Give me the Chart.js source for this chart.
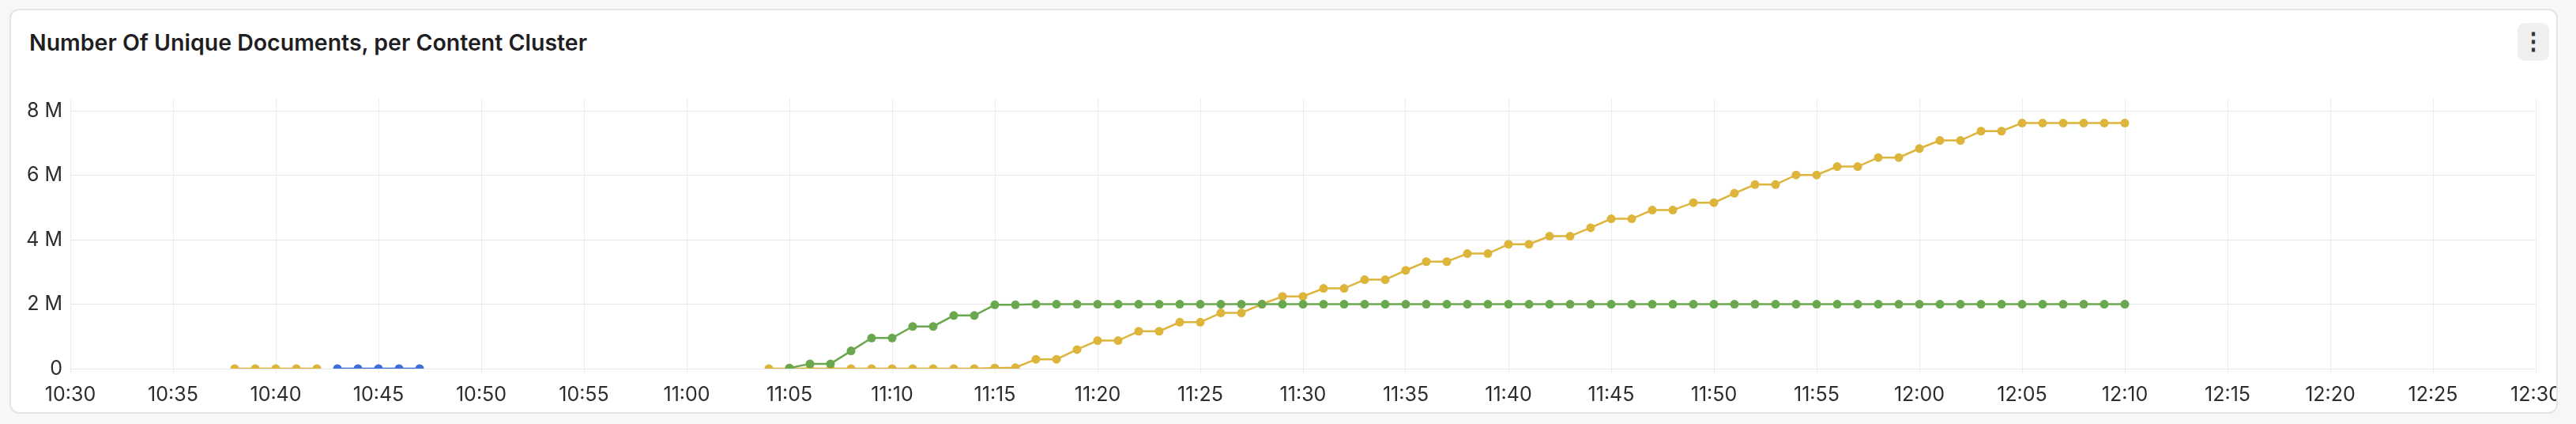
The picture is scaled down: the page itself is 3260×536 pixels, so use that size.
<!DOCTYPE html>
<html>
<head>
<meta charset="utf-8">
<script src="https://cdn.jsdelivr.net/npm/chart.js@4"></script>
<style>
  html, body { margin: 0; padding: 0; background: #f7f7f7; width: 3260px; height: 536px; overflow: hidden; }
  .card { position: absolute; left: 12px; top: 11px; width: 3225px; height: 512px; background: #fff;
          border: 2px solid #e4e4e4; border-radius: 12px; overflow: hidden; box-sizing: border-box; }
  .title { position: absolute; left: 23px; top: 23px; font: 600 28.5px Inter, sans-serif; color: #1f1f23; }
  .menu { position: absolute; left: 3172px; top: 16px; width: 40px; height: 48px; background: #efefef; border-radius: 9px;
          font: 700 30px Inter, sans-serif; color: #333; text-align: center; line-height: 44px; }
  canvas { position: absolute; left: -14px; top: -13px; }
</style>
</head>
<body>
<div class="card">
  <div class="title">Number Of Unique Documents, per Content Cluster</div>
  <div class="menu">&#8942;</div>
  <canvas id="docsChart" width="3260" height="536"></canvas>
</div>
<script>
// x axis ticks (every 5 minutes from 10:30 to 12:30)
const tickLabels = ["10:30","10:35","10:40","10:45","10:50","10:55","11:00","11:05","11:10","11:15","11:20","11:25",
  "11:30","11:35","11:40","11:45","11:50","11:55","12:00","12:05","12:10","12:15","12:20","12:25","12:30"];

// yellow cluster: early run, gap, then main run
const yellowTimes = ["10:38","10:39","10:40","10:41","10:42", null,
  "11:04","11:05","11:06","11:07","11:08","11:09","11:10","11:11","11:12","11:13","11:14","11:15","11:16","11:17","11:18","11:19",
  "11:20","11:21","11:22","11:23","11:24","11:25","11:26","11:27","11:28","11:29","11:30","11:31","11:32","11:33","11:34","11:35",
  "11:36","11:37","11:38","11:39","11:40","11:41","11:42","11:43","11:44","11:45","11:46","11:47","11:48","11:49","11:50","11:51",
  "11:52","11:53","11:54","11:55","11:56","11:57","11:58","11:59","12:00","12:01","12:02","12:03","12:04","12:05","12:06","12:07",
  "12:08","12:09","12:10"];
const yellowValues = [0,0,0,0,0, null,
  0,0,0,0,0,0,0,0,0,0,0,0.02,0.03,0.29,0.29,0.59,
  0.87,0.87,1.16,1.16,1.44,1.44,1.73,1.73,2.0,2.24,2.24,2.49,2.49,2.76,2.76,3.05,
  3.32,3.32,3.57,3.57,3.86,3.86,4.11,4.11,4.37,4.65,4.65,4.92,4.92,5.15,5.15,5.44,
  5.71,5.71,6.01,6.01,6.27,6.27,6.55,6.55,6.83,7.08,7.08,7.37,7.37,7.62,7.62,7.62,
  7.62,7.62,7.62];

const blueTimes = ["10:43","10:44","10:45","10:46","10:47"];
const blueValues = [0,0,0,0,0];

const greenTimes = ["11:05","11:06","11:07","11:08","11:09","11:10","11:11","11:12","11:13","11:14","11:15","11:16","11:17",
  "11:18","11:19","11:20","11:21","11:22","11:23","11:24","11:25","11:26","11:27","11:28","11:29","11:30","11:31","11:32","11:33",
  "11:34","11:35","11:36","11:37","11:38","11:39","11:40","11:41","11:42","11:43","11:44","11:45","11:46","11:47","11:48","11:49",
  "11:50","11:51","11:52","11:53","11:54","11:55","11:56","11:57","11:58","11:59","12:00","12:01","12:02","12:03","12:04","12:05",
  "12:06","12:07","12:08","12:09","12:10"];
const greenValues = [0.02,0.15,0.15,0.55,0.95,0.95,1.31,1.31,1.65,1.65,1.98,1.98,2.0,
  2,2,2,2,2,2,2,2,2,2,2,2,2,2,2,2,
  2,2,2,2,2,2,2,2,2,2,2,2,2,2,2,2,
  2,2,2,2,2,2,2,2,2,2,2,2,2,2,2,2,
  2,2,2,2,2];

function toMin(t) {
  const [h, m] = t.split(":").map(Number);
  return (h - 10) * 60 + m - 30;
}
function points(times, values) {
  return times.map((t, i) => t === null ? { x: null, y: null } : { x: toMin(t), y: values[i] * 1e6 });
}
function series(times, values, color) {
  return {
    data: points(times, values),
    borderColor: color,
    backgroundColor: color,
    borderWidth: 2.5,
    pointRadius: 5.5,
    pointBorderWidth: 0,
    tension: 0,
    spanGaps: false
  };
}

const ctx = document.getElementById("docsChart");
new Chart(ctx, {
  type: "line",
  data: {
    datasets: [
      series(greenTimes, greenValues, "#6aa84f"),
      series(yellowTimes, yellowValues, "#dcb53a"),
      series(blueTimes, blueValues, "#3e6fd9")
    ]
  },
  options: {
    responsive: false,
    animation: false,
    layout: { padding: { top: 125, right: 51, left: 0, bottom: 0 } },
    plugins: { legend: { display: false }, tooltip: { enabled: false } },
    scales: {
      x: {
        type: "linear",
        min: 0,
        max: 120,
        afterFit: (s) => { s.height = 70; },
        afterBuildTicks: (s) => { s.ticks = tickLabels.map((_, i) => ({ value: i * 5 })); },
        ticks: {
          color: "#2b2b30",
          font: { family: "Inter", size: 25 },
          padding: 12,
          maxRotation: 0,
          autoSkip: false,
          callback: (v) => tickLabels[v / 5]
        },
        grid: { color: "#ececec", drawTicks: true, tickLength: 6 },
        border: { display: false }
      },
      y: {
        min: 0,
        max: 8.37e6,
        afterFit: (s) => { s.width = 89; },
        afterBuildTicks: (s) => { s.ticks = [0, 2e6, 4e6, 6e6, 8e6].map((v) => ({ value: v })); },
        ticks: {
          color: "#2b2b30",
          font: { family: "Inter", size: 25 },
          padding: 10,
          callback: (v) => v === 0 ? "0" : (v / 1e6) + " M"
        },
        grid: { color: "#e6e6e6", drawTicks: false },
        border: { display: false }
      }
    }
  }
});
</script>
</body>
</html>
